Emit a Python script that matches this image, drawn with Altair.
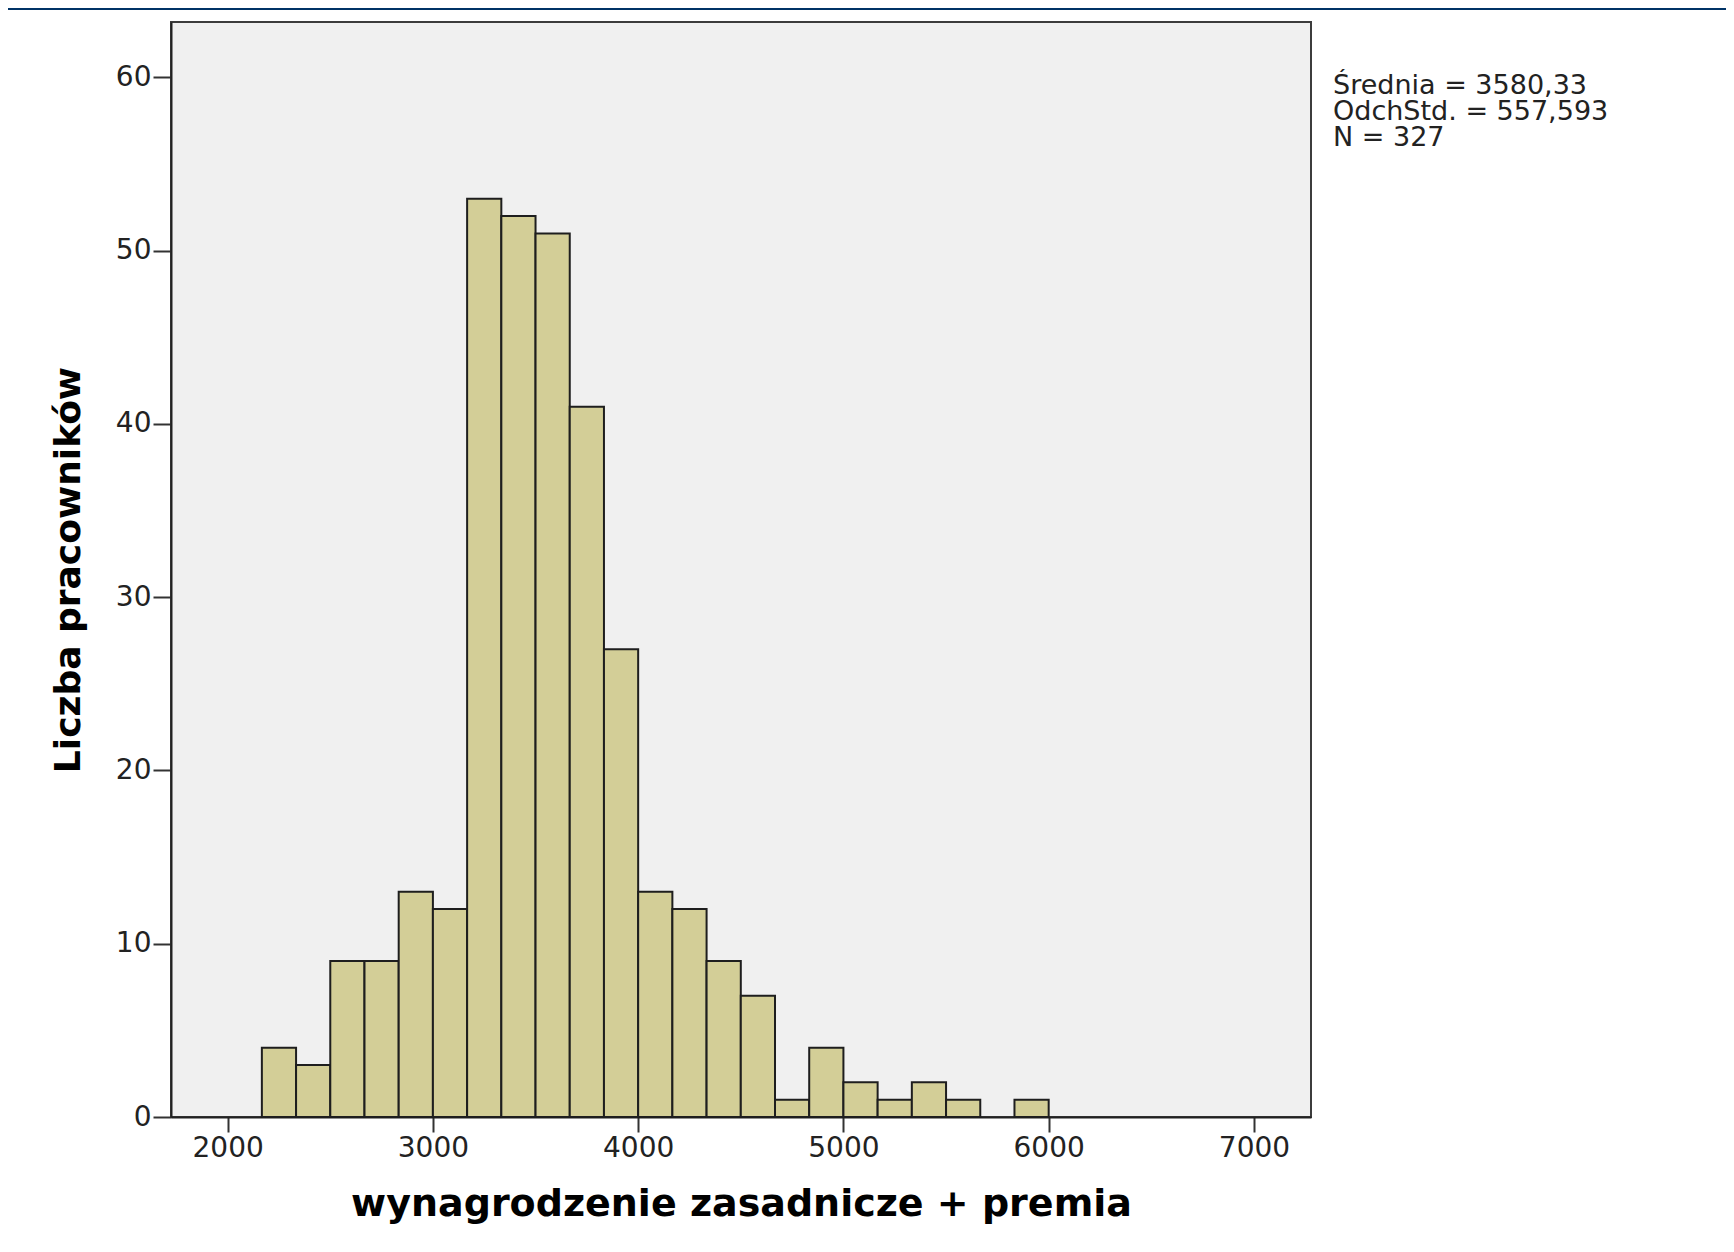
import altair as alt
import pandas as pd

# ---- data ----
bin_lower = [2166.67, 2333.33, 2500.0, 2666.67, 2833.33, 3000.0, 3166.67, 3333.33,
             3500.0, 3666.67, 3833.33, 4000.0, 4166.67, 4333.33, 4500.0, 4666.67,
             4833.33, 5000.0, 5166.67, 5333.33, 5500.0, 5666.67, 5833.33]
bin_upper = [2333.33, 2500.0, 2666.67, 2833.33, 3000.0, 3166.67, 3333.33, 3500.0,
             3666.67, 3833.33, 4000.0, 4166.67, 4333.33, 4500.0, 4666.67, 4833.33,
             5000.0, 5166.67, 5333.33, 5500.0, 5666.67, 5833.33, 6000.0]
counts = [4, 3, 9, 9, 13, 12, 53, 52, 51, 41, 27, 13, 12, 9, 7, 1, 4, 2, 1, 2, 1, 0, 1]

x_ticks = [2000, 3000, 4000, 5000, 6000, 7000]
y_ticks = [0, 10, 20, 30, 40, 50, 60]
x_domain = [1724, 7278]
y_domain = [0, 63.2]

stats_lines = ["Średnia = 3580,33", "OdchStd. = 557,593", "N = 327"]
x_title = "wynagrodzenie zasadnicze + premia"
y_title = "Liczba pracowników"

df = pd.DataFrame({"lo": bin_lower, "hi": bin_upper, "n": counts})
df = df[df["n"] > 0]

W, H = 1140, 1095
FONT = "DejaVu Sans"

x_axis = alt.Axis(
    values=x_ticks, format="d", grid=False,
    labelFont=FONT, labelFontSize=28, labelColor="#222222", labelPadding=2,
    tickSize=15, tickWidth=2, tickColor="#333333",
    domainColor="#222222", domainWidth=2,
    title=x_title, titleFont=FONT, titleFontSize=38, titleFontWeight="bold",
    titleColor="#000000", titleBaseline="alphabetic", titleY=98,
)
y_axis = alt.Axis(
    values=y_ticks, format="d", grid=False,
    labelFont=FONT, labelFontSize=28, labelColor="#222222", labelPadding=2,
    tickSize=18, tickWidth=2, tickColor="#333333",
    domainColor="#222222", domainWidth=2,
    title=y_title, titleFont=FONT, titleFontSize=36, titleFontWeight="bold",
    titleColor="#000000", titleBaseline="alphabetic", titleX=-92, titleY=H / 2,
    titleAngle=270, titleAlign="center",
)

bars = alt.Chart(df).mark_rect(
    fill="#d3ce97", stroke="#1e1e1e", strokeWidth=2
).encode(
    x=alt.X("lo:Q", scale=alt.Scale(domain=x_domain, nice=False, zero=False), axis=x_axis),
    x2="hi:Q",
    y=alt.Y("n:Q", scale=alt.Scale(domain=y_domain, nice=False), axis=y_axis),
    y2=alt.datum(0),
)

stats = alt.Chart(alt.Data(values=[{}])).mark_text(
    text=stats_lines, align="left", baseline="alphabetic", font=FONT,
    fontSize=27, lineHeight=26, color="#222222",
).encode(x=alt.value(1162), y=alt.value(72))

frame_top = alt.Chart(alt.Data(values=[{}])).mark_rect(color="#003366").encode(
    x=alt.value(-170), x2=alt.value(1560), y=alt.value(-14), y2=alt.value(-12)
)

chart = alt.layer(bars, stats, frame_top).properties(
    width=W, height=H,
    autosize=alt.AutoSizeParams(type="none"),
    padding={"left": 163, "top": 14, "right": 415, "bottom": 127},
    background="#ffffff",
).configure_view(
    fill="#f0f0f0", stroke="#3c3c3c", strokeWidth=2
)

chart.save("out.html", embed_options={"renderer": "svg", "actions": False})
